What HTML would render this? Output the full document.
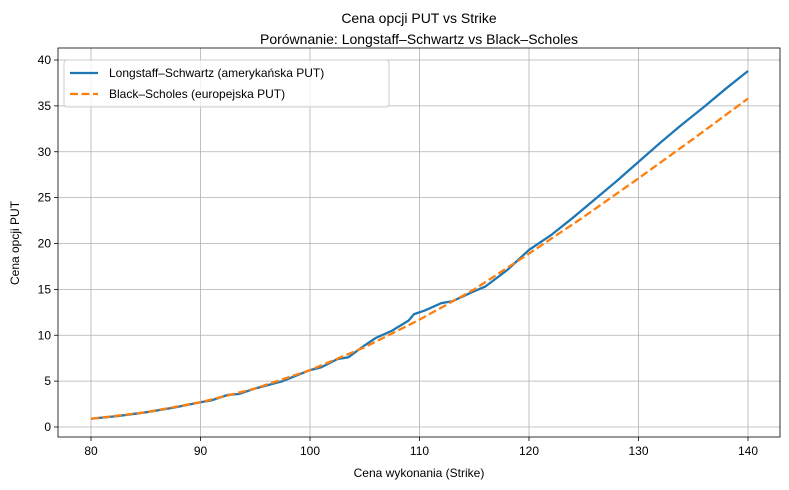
<!DOCTYPE html>
<html><head><meta charset="utf-8"><style>body{margin:0;background:#fff}svg{display:block;font-family:"Liberation Sans","DejaVu Sans",sans-serif}</style></head>
<body>
<svg id="chart" width="789" height="490"></svg>
<script>
const lsStrikes=[80,82.5,85,87.5,90,91,92.5,93.5,95,97.5,100,101,102.5,103.5,105,106,107.5,109,109.5,110.5,112,113,115,116,118,119,120,122,124,126,128,130,132,134,136,138,140];
const lsValues=[0.9,1.2,1.6,2.1,2.7,2.9,3.5,3.6,4.2,5.0,6.2,6.5,7.4,7.6,8.9,9.7,10.5,11.6,12.3,12.7,13.5,13.7,14.8,15.3,17.1,18.2,19.3,20.9,22.8,24.8,26.8,28.9,31.0,33.0,34.9,36.9,38.8];
const bsStrikes=[80,85,90,95,100,105,110,115,120,125,130,135,140];
const bsValues=[0.9,1.6,2.7,4.2,6.2,8.7,11.7,15.0,18.9,22.9,27.1,31.4,35.8];
const xTicks=[80,90,100,110,120,130,140];
const yTicks=[0,5,10,15,20,25,30,35,40];
const NS="http://www.w3.org/2000/svg",svg=document.getElementById('chart');
const L=58,R=780,T=48,B=437;
const xs=v=>91+(v-80)*(748-91)/60, ys=v=>427-v*(427-60)/40;
function el(t,a,p){const e=document.createElementNS(NS,t);for(const k in a)e.setAttribute(k,a[k]);(p||svg).appendChild(e);return e;}
function txt(s,a){const e=el('text',a);e.textContent=s;return e;}
const g=el('g',{});


xTicks.forEach(v=>{
  el('line',{x1:xs(v),x2:xs(v),y1:T,y2:B,stroke:'#b0b0b0','stroke-width':0.8},g);
  el('line',{x1:xs(v),x2:xs(v),y1:B,y2:B+4,stroke:'#000','stroke-width':0.8});
  const t=txt(v,{x:xs(v),y:B+18,'font-size':12,'text-anchor':'middle',fill:'#000'});
  
  
});
yTicks.forEach(v=>{
  el('line',{x1:L,x2:R,y1:ys(v),y2:ys(v),stroke:'#b0b0b0','stroke-width':0.8},g);
  el('line',{x1:L-4,x2:L,y1:ys(v),y2:ys(v),stroke:'#000','stroke-width':0.8});
  const t=txt(v,{x:L-7,y:ys(v)+4,'font-size':12,'text-anchor':'end',fill:'#000'});
  
  
});
const fr=el('rect',{x:L,y:T,width:R-L,height:B-T,fill:'none',stroke:'#000','stroke-width':0.8});


const p1=el('polyline',{points:lsStrikes.map((s,i)=>xs(s)+','+ys(lsValues[i])).join(' '),fill:'none',stroke:'#1f77b4','stroke-width':2.3});


const p2=el('polyline',{points:bsStrikes.map((s,i)=>xs(s)+','+ys(bsValues[i])).join(' '),fill:'none',stroke:'#ff7f0e','stroke-width':2.3,'stroke-dasharray':'8,3.5'});


let t=txt('Cena opcji PUT vs Strike',{x:419,y:23,'font-size':14,'text-anchor':'middle'});


t=txt('Porównanie: Longstaff–Schwartz vs Black–Scholes',{x:419,y:44,'font-size':14,'text-anchor':'middle'});


t=txt('Cena wykonania (Strike)',{x:419,y:477,'font-size':12,'text-anchor':'middle'});


t=txt('Cena opcji PUT',{x:0,y:0,'font-size':12,'text-anchor':'middle',transform:'translate(19,243) rotate(-90)'});


const lg=el('g',{});


el('rect',{x:64,y:60,width:325,height:47,rx:3,fill:'#fff','fill-opacity':0.8,stroke:'#ccc'},lg);
el('line',{x1:70,x2:98,y1:73,y2:73,stroke:'#1f77b4','stroke-width':2.3},lg);
el('line',{x1:70,x2:98,y1:94,y2:94,stroke:'#ff7f0e','stroke-width':2.3,'stroke-dasharray':'8,3.5'},lg);
t=el('text',{x:109,y:77,'font-size':12},lg);t.textContent='Longstaff–Schwartz (amerykańska PUT)';


t=el('text',{x:109,y:98,'font-size':12},lg);t.textContent='Black–Scholes (europejska PUT)';


</script>
</body></html>
